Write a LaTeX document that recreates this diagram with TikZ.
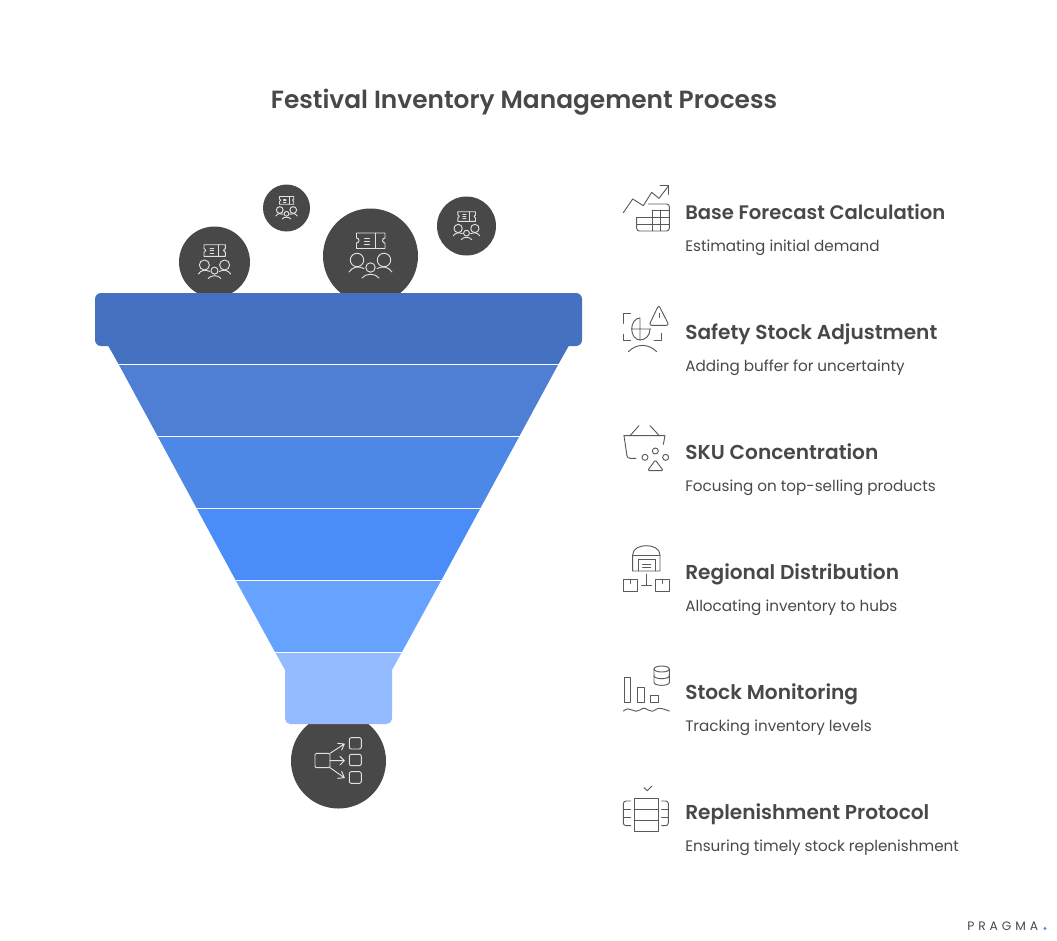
\documentclass[tikz,border=0pt]{standalone}
\usepackage{fontspec}
\setmainfont{Poppins}[BoldFont=Poppins SemiBold]
\usepackage{tikz}
\definecolor{ink}{HTML}{484848}
\definecolor{glyph}{HTML}{E2E2E2}
\definecolor{bandA}{HTML}{4472C0}
\definecolor{bandB}{HTML}{4F7FD4}
\definecolor{bandC}{HTML}{4D88E6}
\definecolor{bandD}{HTML}{4A8DF8}
\definecolor{bandE}{HTML}{66A3FF}
\definecolor{bandF}{HTML}{94BBFF}
\tikzset{
  title/.style={anchor=center,text=ink,font=\fontsize{18.65}{24}\selectfont\bfseries},
  head/.style={anchor=west,text=ink,font=\fontsize{15.1}{18}\selectfont\bfseries,inner sep=0pt,text height=11pt,text depth=3.5pt},
  sub/.style={anchor=west,text=ink,font=\fontsize{11.4}{14}\selectfont,inner sep=0pt,text height=8.5pt,text depth=2.5pt},
  icon/.style={draw=ink!90,line width=0.7pt,line join=round,line cap=round},
  lightglyph/.style={draw=glyph,line width=0.7pt,line join=round,line cap=round},
  sep/.style={draw=white,line width=0.6pt},
  crowd/.pic={
    \draw[lightglyph] (-14,-23) -- (14.5,-23) -- (14.5,-18) arc(-90:-270:2.5) -- (14.5,-7.5) -- (-14,-7.5) -- (-14,-13) arc(90:-90:2.5) -- cycle;
    \draw[lightglyph] (-6,-18) -- (-1,-18) (-6,-15) -- (-1,-15) (-6,-12) -- (-1,-12) (5,-23) -- (5,-7.5);
    \draw[lightglyph] (-13.5,4) circle(6.7);
    \draw[lightglyph] (13.5,4) circle(6.7);
    \draw[lightglyph] (0,11.5) circle(4.7);
    \draw[lightglyph] (-21.5,16) .. controls (-18,10.5) and (-12,10) .. (-6.5,12.5);
    \draw[lightglyph] (21.5,16) .. controls (18,10.5) and (12,10) .. (6.5,12.5);
    \draw[lightglyph] (-8.5,22) .. controls (-5,17) and (5,17) .. (8.5,22);
  }
}
\begin{document}
\begin{tikzpicture}[x=0.75pt,y=-0.75pt]
     \useasboundingbox (0,0) rectangle (1057,940);
     % circles above and below the funnel
     \fill[ink] (214.5,262) circle(35.5);
     \fill[ink] (286.5,208) circle(23.5);
     \fill[ink] (370.5,256) circle(47.5);
     \fill[ink] (466.5,226) circle(29.5);
     \fill[ink] (338.5,761) circle(47.5);
     \pic[scale=0.75] at (214.5,262) {crowd={}};
     \pic[scale=0.5] at (286.5,208) {crowd={}};
     \pic at (370.5,256) {crowd={}};
     \pic[scale=0.62] at (466.5,226) {crowd={}};
     % funnel
     \fill[bandA,rounded corners=4.5pt] (95,293) rectangle (582,346);
     \fill[bandA] (108.3,340) -- (568.7,340) -- (568.7,346) -- (558.5,364) -- (118.5,364) -- (108.3,346) -- cycle;
     \fill[bandB] (118.5,364) -- (558.5,364) -- (519.5,436) -- (157.5,436) -- cycle;
     \fill[bandC] (157.5,436) -- (519.5,436) -- (480.5,508) -- (196.5,508) -- cycle;
     \fill[bandD] (196.5,508) -- (480.5,508) -- (441.5,580) -- (235.5,580) -- cycle;
     \fill[bandE] (235.5,580) -- (441.5,580) -- (402,652) -- (275,652) -- cycle;
     \fill[bandF] (275,652) -- (402,652) -- (392,670) [rounded corners=4pt] -- (392,724) -- (285,724) [sharp corners] -- (285,670) -- cycle;
     \draw[sep] (118.5,364) -- (558.5,364);
     \draw[sep] (157.5,436) -- (519.5,436);
     \draw[sep] (196.5,508) -- (480.5,508);
     \draw[sep] (235.5,580) -- (441.5,580);
     \draw[sep] (275,652) -- (402,652);
     % texts
     \node[title] (heading) at (524,102) {Festival Inventory Management Process};
     \node[head,font=\fontsize{14.7}{18}\selectfont\bfseries] (base) at (685,214) {Base Forecast Calculation};
     \node[sub] (basesub) at (685,247.5) {Estimating initial demand};
     \node[head] (safety) at (685,334) {Safety Stock Adjustment};
     \node[sub] (safetysub) at (685,367.5) {Adding buffer for uncertainty};
     \node[head] (sku) at (685,454) {SKU Concentration};
     \node[sub] (skusub) at (685,487.5) {Focusing on top-selling products};
     \node[head] (regional) at (685,574) {Regional Distribution};
     \node[sub] (regionalsub) at (685,607.5) {Allocating inventory to hubs};
     \node[head] (monitor) at (685,694) {Stock Monitoring};
     \node[sub] (monitorsub) at (685,727.5) {Tracking inventory levels};
     \node[head] (replenish) at (685,814) {Replenishment Protocol};
     \node[sub] (replenishsub) at (685,847.5) {Ensuring timely stock replenishment};
     \node[anchor=west,inner sep=0pt,text=ink,font=\fontsize{9.2}{10}\selectfont\addfontfeature{LetterSpace=32}] (logo) at (967,926) {PRAGMA};
     \fill[bandD] (1045,928.5) circle(1.7);
     % forecast and safety icons
     \begin{scope}[shift={(610,175)},scale=1/3]
      \draw[icon] (40,113) -- (68,72) -- (100,92) -- (125,52) -- (147,70) -- (176,32);
      \draw[icon] (150,32) -- (176,32) -- (176,58);
      \draw[icon,rounded corners=2pt] (80,127) -- (80,168) -- (178,168) -- (178,87) -- (115,87);
      \draw[icon] (80,127) -- (178,127) (80,148) -- (178,148) (128,105) -- (128,168) (152,105) -- (152,168) (128,105) -- (178,105);
      \draw[icon] (62,415) -- (40,415) -- (40,445) (40,478) -- (40,497) -- (62,497) (132,497) -- (155,497) -- (155,475);
      \draw[icon] (90,429) arc(-90:-270:25 and 33) (90,429) -- (90,495) (65,462) -- (122,462);
      \draw[icon] (90,495) .. controls (108,495) and (120,480) .. (120,462);
      \draw[icon,rounded corners=2pt] (146,390) -- (177,451) -- (117,451) -- cycle;
      \draw[icon] (147,415) -- (147,428);
      \draw[icon] (55,530) .. controls (80,505) and (115,505) .. (140,530);
     \end{scope}
     % basket and warehouse icons
     \begin{scope}[shift={(610,415)},scale=1/3]
      \draw[icon] (60,62) -- (87,32) (120,32) -- (148,62);
      \draw[icon] (42,62) -- (165,62) -- (160,88);
      \draw[icon,rounded corners=2pt] (42,62) -- (52,130) -- (78,130);
      \draw[icon] (105,127) circle(9) (136,108) circle(9) (167,127) circle(9);
      \draw[icon,rounded corners=1pt] (136,135) -- (160,167) -- (113,167) -- cycle;
      \draw[icon] (68,468) -- (68,420) .. controls (68,400) and (90,392) .. (109,392) .. controls (128,392) and (150,400) .. (150,420) -- (150,468) -- cycle;
      \draw[icon] (68,420) -- (150,420);
      \draw[icon] (85,468) -- (85,433) -- (135,433) -- (135,468);
      \draw[icon] (98,447) -- (122,447) (98,457) -- (122,457);
      \draw[icon] (40,492) rectangle (83,530) (62,492) -- (62,505);
      \draw[icon] (135,492) rectangle (178,530) (157,492) -- (157,505);
      \draw[icon] (110,478) -- (110,510) (95,510) -- (125,510);
     \end{scope}
     % monitoring and replenishment icons
     \begin{scope}[shift={(610,655)},scale=1/3]
      \draw[icon] (42,68) rectangle (62,142);
      \draw[icon] (82,96) rectangle (104,142);
      \draw[icon] (122,120) rectangle (144,142);
      \draw[icon] (40,168) .. controls (50,160) and (58,160) .. (66,165) .. controls (74,170) and (82,170) .. (90,165) .. controls (98,158) and (106,158) .. (114,165) .. controls (122,170) and (130,170) .. (138,163) .. controls (148,156) and (160,162) .. (178,168);
      \draw[icon] (155,42) ellipse(23 and 9);
      \draw[icon] (132,42) -- (132,82) .. controls (132,94) and (178,94) .. (178,82) -- (178,42);
      \draw[icon] (132,62) .. controls (132,74) and (178,74) .. (178,62);
      \draw[icon] (102,398) -- (112,407) -- (126,393);
      \draw[icon] (72,430) rectangle (145,528) (72,463) -- (145,463) (72,495) -- (145,495);
      \draw[icon,rounded corners=2pt] (62,438) -- (40,438) -- (40,512) -- (62,512);
      \draw[icon] (40,462) -- (62,462) (40,488) -- (62,488);
      \draw[icon,rounded corners=2pt] (155,438) -- (175,438) -- (175,512) -- (155,512);
      \draw[icon] (155,462) -- (175,462) (155,488) -- (175,488);
     \end{scope}
     % split icon in the bottom circle
     \begin{scope}[shift={(260,640)},scale=1/3]
      \draw[lightglyph,rounded corners=1pt] (165,340) rectangle (210,383);
      \draw[lightglyph] (210,340) -- (253,312) (233,310) -- (253,312) -- (245,330);
      \draw[lightglyph] (210,362) -- (253,362) (240,349) -- (253,362) -- (240,375);
      \draw[lightglyph] (210,383) -- (253,413) (245,394) -- (253,413) -- (233,415);
      \draw[lightglyph,rounded corners=1.5pt] (268,293) rectangle (304,327);
      \draw[lightglyph,rounded corners=1.5pt] (268,343) rectangle (304,377);
      \draw[lightglyph,rounded corners=1.5pt] (268,395) rectangle (304,430);
     \end{scope}
    \end{tikzpicture}
\end{document}
